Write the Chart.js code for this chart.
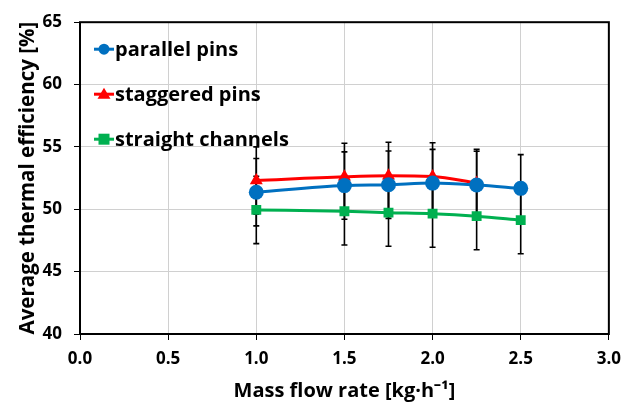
<!DOCTYPE html>
<html>
<head>
<meta charset="utf-8">
<script src="https://cdn.jsdelivr.net/npm/chart.js@4.4.1/dist/chart.umd.min.js"></script>
<style>
  html, body { margin: 0; padding: 0; background: #fff; }
  #wrap { width: 630px; height: 405px; }
</style>
</head>
<body>
<div id="wrap"><canvas id="c" width="630" height="405"></canvas></div>
<script>
// Mass flow rate [kg/h]
const flowParallel = [1.0, 1.5, 1.75, 2.0, 2.25, 2.5];
const flowStaggered = [1.0, 1.5, 1.75, 2.0, 2.25];
const flowStraight = [1.0, 1.5, 1.75, 2.0, 2.25, 2.5];

// Average thermal efficiency [%]
const effParallel = [51.37, 51.9, 51.97, 52.1, 51.95, 51.68];
const effStaggered = [52.3, 52.6, 52.68, 52.63, 52.1];
const effStraight = [49.95, 49.84, 49.73, 49.65, 49.45, 49.13];

// Uncertainty (±) for each point
const errParallel = [2.7, 2.7, 2.7, 2.7, 2.7, 2.7];
const errStaggered = [2.7, 2.7, 2.7, 2.7, 2.7];
const errStraight = [2.7, 2.7, 2.7, 2.7, 2.7, 2.7];

const seriesNames = ['parallel pins', 'staggered pins', 'straight channels'];
const xTicks = [0.0, 0.5, 1.0, 1.5, 2.0, 2.5, 3.0];
const yTicks = [40, 45, 50, 55, 60, 65];

const FONT = '"Open Sans", "Liberation Sans", sans-serif';

function pts(xs, ys) { return xs.map((x, i) => ({ x: x, y: ys[i] })); }

// Vertical error bars with caps, drawn through the chart scales
const errorBars = {
  id: 'errorBars',
  beforeDatasetsDraw(chart) {
    const ctx = chart.ctx;
    const xs = chart.scales.x, ys = chart.scales.y;
    ctx.save();
    ctx.strokeStyle = '#000';
    ctx.lineWidth = 1.6;
    chart.data.datasets.forEach(ds => {
      ds.data.forEach((p, i) => {
        const e = ds.errors[i];
        const px = xs.getPixelForValue(p.x);
        const yt = ys.getPixelForValue(p.y + e);
        const yb = ys.getPixelForValue(p.y - e);
        ctx.beginPath();
        ctx.moveTo(px, yt); ctx.lineTo(px, yb);
        ctx.moveTo(px - 3, yt); ctx.lineTo(px + 3, yt);
        ctx.moveTo(px - 3, yb); ctx.lineTo(px + 3, yb);
        ctx.stroke();
      });
    });
    ctx.restore();
  }
};

// Legend inside the plot area: short line with marker, then the name
const innerLegend = {
  id: 'innerLegend',
  afterDraw(chart) {
    const ctx = chart.ctx;
    const a = chart.chartArea;
    ctx.save();
    ctx.font = 'bold 20px ' + FONT;
    ctx.textBaseline = 'middle';
    chart.data.datasets.forEach((ds, i) => {
      const y = a.top + 27 + i * 45;
      const x0 = a.left + 14, x1 = a.left + 34;
      ctx.strokeStyle = ds.borderColor;
      ctx.lineWidth = 3;
      ctx.beginPath(); ctx.moveTo(x0, y); ctx.lineTo(x1, y); ctx.stroke();
      ctx.fillStyle = ds.backgroundColor;
      const cx = (x0 + x1) / 2, r = 5.5;
      ctx.beginPath();
      if (ds.pointStyle === 'circle') {
        ctx.arc(cx, y, r, 0, Math.PI * 2);
      } else if (ds.pointStyle === 'triangle') {
        ctx.moveTo(cx, y - r - 1); ctx.lineTo(cx + r + 1, y + r - 1); ctx.lineTo(cx - r - 1, y + r - 1); ctx.closePath();
      } else {
        ctx.rect(cx - r, y - r, 2 * r, 2 * r);
      }
      ctx.fill();
      ctx.fillStyle = '#000';
      ctx.fillText(ds.label, x1 + 1, y + 1);
    });
    ctx.restore();
  }
};

// Black frame around the plot area
const frame = {
  id: 'frame',
  afterDatasetsDraw(chart) {
    const ctx = chart.ctx, a = chart.chartArea;
    ctx.save();
    ctx.strokeStyle = '#000';
    ctx.lineWidth = 2;
    ctx.strokeRect(a.left, a.top, a.right - a.left, a.bottom - a.top);
    ctx.restore();
  }
};

function ds(label, xs, ys, errs, color, style, radius) {
  return {
    label: label,
    data: pts(xs, ys),
    errors: errs,
    borderColor: color,
    backgroundColor: color,
    borderWidth: 3,
    pointStyle: style,
    pointRadius: radius,
    pointHoverRadius: radius,
    pointBorderWidth: 0,
    cubicInterpolationMode: 'monotone',
    tension: 0.3,
    showLine: true
  };
}

new Chart(document.getElementById('c'), {
  type: 'scatter',
  data: {
    datasets: [
      ds(seriesNames[0], flowParallel, effParallel, errParallel, '#0070C0', 'circle', 7.5),
      ds(seriesNames[1], flowStaggered, effStaggered, errStaggered, '#FF0000', 'triangle', 7.5),
      ds(seriesNames[2], flowStraight, effStraight, errStraight, '#00B050', 'rect', 7)
    ]
  },
  options: {
    responsive: false,
    animation: false,
    layout: { padding: { top: 16, right: 18, left: 0, bottom: 0 } },
    plugins: { legend: { display: false }, tooltip: { enabled: false } },
    scales: {
      x: {
        type: 'linear', min: 0, max: 3,
        afterBuildTicks: s => { s.ticks = xTicks.map(v => ({ value: v })); },
        afterFit: s => { s.height = 71; },
        grid: { color: '#d0d0d0', lineWidth: 1, drawTicks: true, tickLength: 6, tickColor: '#000' },
        border: { display: false },
        ticks: { color: '#000', font: { family: FONT, size: 17, weight: 'bold' }, padding: 9,
                 maxRotation: 0, callback: v => v.toFixed(1) },
        title: { display: true, text: 'Mass flow rate [kg·h⁻¹]', color: '#000',
                 font: { family: FONT, size: 20, weight: 'bold' }, padding: { top: 0, bottom: 2 } }
      },
      y: {
        min: 40, max: 65,
        afterBuildTicks: s => { s.ticks = yTicks.map(v => ({ value: v })); },
        afterFit: s => { s.width = 80; },
        grid: { color: '#d0d0d0', lineWidth: 1, drawTicks: true, tickLength: 6, tickColor: '#000' },
        border: { display: false },
        ticks: { color: '#000', font: { family: FONT, size: 17, weight: 'bold' }, padding: 12 },
        title: { display: true, text: 'Average thermal efficiency [%]', color: '#000',
                 font: { family: FONT, size: 20.5, weight: 'bold' }, padding: { top: 16, bottom: 0 } }
      }
    }
  },
  plugins: [errorBars, frame, innerLegend]
});
</script>
</body>
</html>
